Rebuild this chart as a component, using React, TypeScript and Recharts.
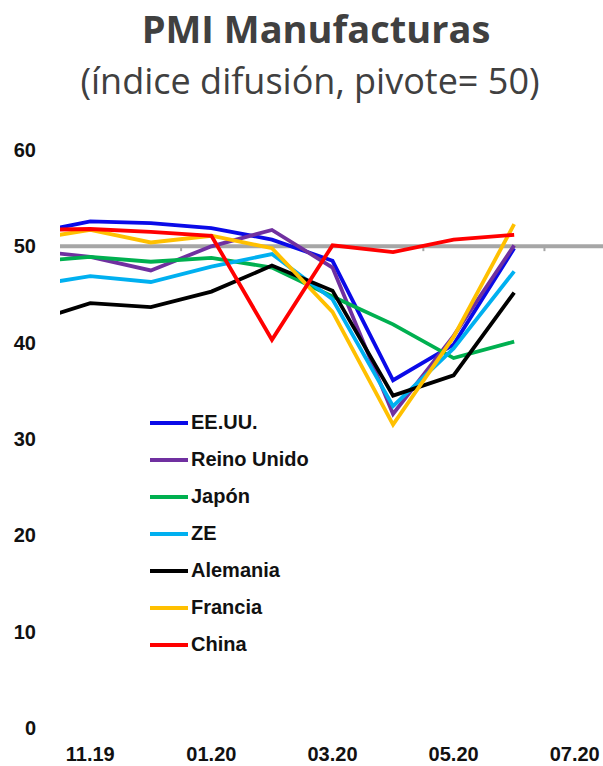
import { LineChart, Line, XAxis, YAxis, ReferenceLine } from "recharts";

// Monthly PMI (manufacturing), Oct 2019 – Jun 2020
const months = ["10.19", "11.19", "12.19", "01.20", "02.20", "03.20", "04.20", "05.20", "06.20", "07.20"];
const tickLabels = ["11.19", "01.20", "03.20", "05.20", "07.20"];
const yTicks = [0, 10, 20, 30, 40, 50, 60];
// category boundaries that get a small tick mark on the 50 line
const boundaryTicks = [2.5, 4.5, 6.5, 8.5];

const eeuu = [51.3, 52.6, 52.4, 51.9, 50.7, 48.5, 36.1, 39.8, 49.8];
const reinoUnido = [49.6, 48.9, 47.5, 50.0, 51.7, 47.8, 32.6, 40.7, 50.1];
const japon = [48.4, 48.9, 48.4, 48.8, 47.8, 44.8, 41.9, 38.4, 40.1];
const ze = [45.9, 46.9, 46.3, 47.9, 49.2, 44.5, 33.4, 39.4, 47.4];
const alemania = [42.1, 44.1, 43.7, 45.3, 48.0, 45.4, 34.5, 36.6, 45.2];
const francia = [50.7, 51.7, 50.4, 51.1, 49.8, 43.2, 31.5, 40.6, 52.3];
const china = [51.7, 51.8, 51.5, 51.1, 40.3, 50.1, 49.4, 50.7, 51.2];

const series = [
  { key: "eeuu", name: "EE.UU.", color: "#0a0ae8", values: eeuu },
  { key: "reinoUnido", name: "Reino Unido", color: "#7030a0", values: reinoUnido },
  { key: "japon", name: "Japón", color: "#00b050", values: japon },
  { key: "ze", name: "ZE", color: "#00b0f0", values: ze },
  { key: "alemania", name: "Alemania", color: "#000000", values: alemania },
  { key: "francia", name: "Francia", color: "#ffc000", values: francia },
  { key: "china", name: "China", color: "#ff0000", values: china },
];

const data = eeuu.map((_, i) => {
  const row: Record<string, number | string> = { i, month: months[i] };
  series.forEach((s) => {
    row[s.key] = s.values[i];
  });
  return row;
});

const AXIS_FONT = "'Liberation Sans', Arial, sans-serif";

function YTick({ x, y, payload }: any) {
  return (
    <text x={x - 16} y={y} dy={7} textAnchor="end" fontFamily={AXIS_FONT} fontWeight="bold" fontSize={20} fill="#111">
      {payload.value}
    </text>
  );
}

function XTick({ x, y, payload }: any) {
  return (
    <text x={x} y={y} dy={25} textAnchor="middle" fontFamily={AXIS_FONT} fontWeight="bold" fontSize={20} fill="#111">
      {months[payload.value]}
    </text>
  );
}

function LegendList() {
  return (
    <div
      style={{
        position: "absolute",
        left: 150,
        top: 404,
        fontFamily: AXIS_FONT,
        fontWeight: "bold",
        fontSize: 20,
        color: "#111",
      }}
    >
      {series.map((s) => (
        <div key={s.key} style={{ display: "flex", alignItems: "center", height: 37 }}>
          <span style={{ display: "inline-block", width: 38, height: 4, background: s.color, marginRight: 3 }} />
          <span>{s.name}</span>
        </div>
      ))}
    </div>
  );
}

export default function App() {
  return (
    <div style={{ position: "relative", width: 603, height: 766, overflow: "hidden", background: "#fff" }}>
      <style>{"body{margin:0}"}</style>
      <div
        style={{
          position: "absolute",
          left: 316,
          top: 2,
          transform: "translateX(-50%)",
          whiteSpace: "nowrap",
          fontFamily: "'Open Sans', sans-serif",
          fontWeight: 700,
          fontSize: 38,
          color: "#404040",
        }}
      >
        PMI Manufacturas
      </div>
      <div
        style={{
          position: "absolute",
          left: 310,
          top: 56,
          transform: "translateX(-50%)",
          whiteSpace: "nowrap",
          fontFamily: "'Open Sans', sans-serif",
          fontSize: 36,
          color: "#404040",
        }}
      >
        (índice difusión, pivote= 50)
      </div>
      <LineChart width={605} height={766} data={data} margin={{ top: 150, right: 0, bottom: 0, left: 0 }}>
        <XAxis
          type="number"
          dataKey="i"
          domain={[0.5, 9.5]}
          ticks={tickLabels.map((l) => months.indexOf(l))}
          allowDataOverflow
          axisLine={false}
          tickLine={false}
          height={38}
          tick={<XTick />}
        />
        <YAxis
          type="number"
          domain={[0, 60]}
          ticks={yTicks}
          width={60}
          axisLine={false}
          tickLine={false}
          tick={<YTick />}
        />
        <ReferenceLine y={50} stroke="#a6a6a6" strokeWidth={4} zIndex={0} />
        {boundaryTicks.map((b) => (
          <ReferenceLine
            key={b}
            segment={[
              { x: b, y: 50 },
              { x: b, y: 49.5 },
            ]}
            stroke="#a6a6a6"
            strokeWidth={2}
            zIndex={0}
          />
        ))}
        {series.map((s) => (
          <Line
            key={s.key}
            dataKey={s.key}
            name={s.name}
            stroke={s.color}
            strokeWidth={3.8}
            dot={false}
            activeDot={false}
            type="linear"
            isAnimationActive={false}
          />
        ))}
      </LineChart>
      <LegendList />
    </div>
  );
}
